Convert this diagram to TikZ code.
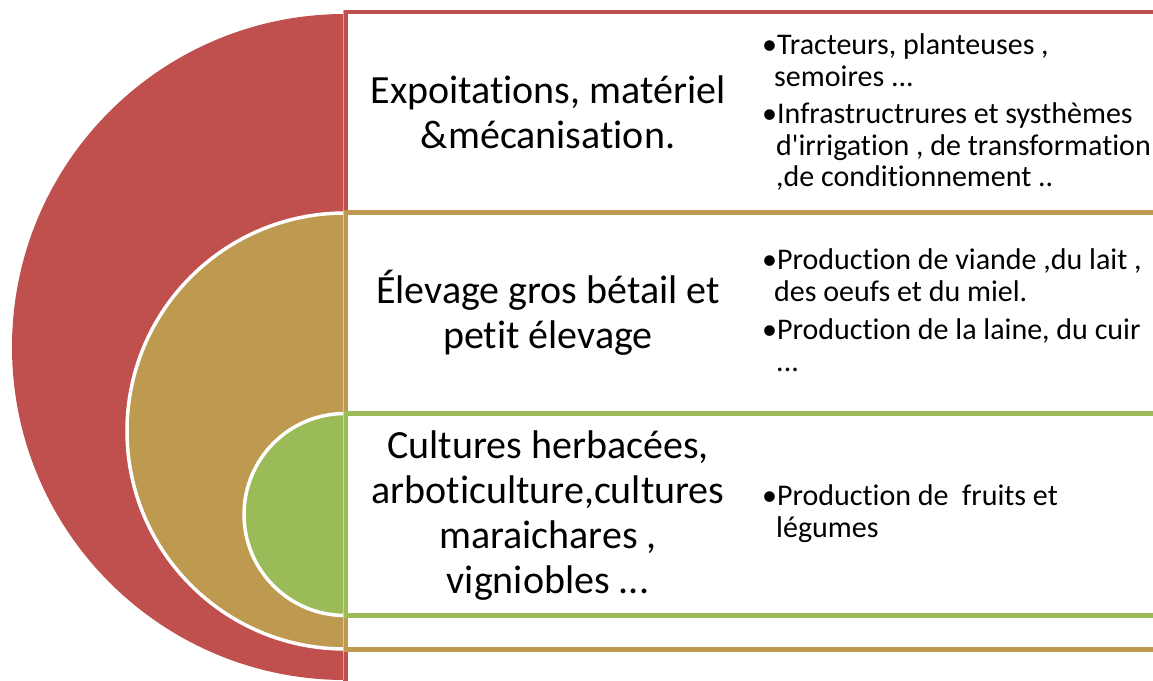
\documentclass[tikz,border=0pt]{standalone}
\usepackage{fontspec}
\setmainfont{Carlito}[Ligatures={TeXOff,CommonOff}]
\begin{document}
\begin{tikzpicture}[x=1pt,y=1pt,
  band/.style={line width=4.5pt,fill=white},
  half/.style={draw=white,line width=3.5pt},
  title/.style={align=center,inner sep=0pt,font=\fontsize{40}{45}\selectfont},
  item/.style={anchor=base west,inner sep=0pt,font=\fontsize{30}{31.5}\selectfont}]
\definecolor{cRed}{HTML}{C0504D}
\definecolor{cTan}{HTML}{BE9A50}
\definecolor{cGreen}{HTML}{9BBB59}
\useasboundingbox (0,0) rectangle (1153,680);
\begin{scope}
\clip (0,0) rectangle (1153,680);
% outer level
\fill[cRed] (345,666) arc[start angle=90,end angle=270,radius=333] -- cycle;
\draw[band,draw=cRed] (1170,-10) -- (345.5,-10) -- (345.5,668) -- (1170,668);
% middle level
\filldraw[half,fill=cTan] (345,467) arc[start angle=90,end angle=270,radius=218] -- cycle;
\draw[band,draw=cTan] (1170,30.5) -- (345.5,30.5) -- (345.5,467.5) -- (1170,467.5);
% inner level
\filldraw[half,fill=cGreen] (345,266.5) arc[start angle=90,end angle=270,radius=101] -- cycle;
\draw[band,draw=cGreen] (1170,64.5) -- (345.5,64.5) -- (345.5,266.5) -- (1170,266.5);
% light seam along the flat sides
\draw[white,opacity=0.45,line width=1.2pt] (343.6,0) -- (343.6,670);
\end{scope}
% level titles
\node[title] (t1) at (548,568) {Expoitations, matériel\\\&mécanisation.};
\node[title] (t2) at (548,367) {Élevage gros bétail et\\petit élevage};
\node[title] (t3) at (548,164) {Cultures herbacées,\\arboticulture,cultures\\maraichares ,\\vigniobles ...};
% details, outer level
\node[item] (a1) at (762,625) {•Tracteurs, planteuses ,};
\node[item] (a2) at (774,593.5) {semoires ...};
\node[item] (a3) at (762,556) {•Infrastructrures et systhèmes};
\node[item] (a4) at (776,524.5) {d'irrigation , de transformation};
\node[item] (a5) at (776,493) {,de conditionnement ..};
% details, middle level
\node[item] (b1) at (762,410) {•Production de viande ,du lait ,};
\node[item] (b2) at (774,378.5) {des oeufs et du miel.};
\node[item] (b3) at (762,340) {•Production de la laine, du cuir};
\node[item] (b4) at (776,308.5) {...};
% details, inner level
\node[item] (c1) at (762,174) {•Production de\ \ fruits et};
\node[item] (c2) at (776,142.5) {légumes};
\end{tikzpicture}
\end{document}
